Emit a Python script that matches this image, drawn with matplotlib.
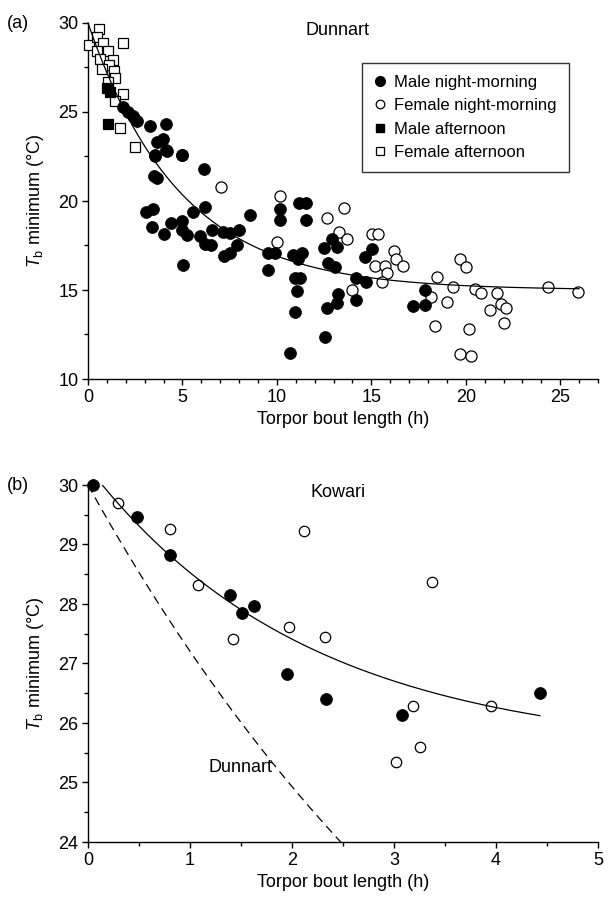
import numpy as np
import matplotlib
matplotlib.use('Agg')
import matplotlib.pyplot as plt
from matplotlib.ticker import MultipleLocator
from matplotlib.lines import Line2D

plt.rcParams['font.family'] = ['Liberation Sans', 'DejaVu Sans']
plt.rcParams['mathtext.fontset'] = 'custom'
plt.rcParams['mathtext.rm'] = 'Liberation Sans'
plt.rcParams['mathtext.it'] = 'Liberation Sans:italic'

# ---------------- Panel (a): Dunnart ----------------
a_male_nm_h = [1.87, 2.13, 2.36, 2.61, 3.3, 4.15, 3.67, 3.99, 4.15, 3.54, 5.0,
               3.54, 4.2, 5.0, 3.5, 3.67, 6.14, 3.07, 3.42, 3.37, 4.02, 4.39, 5.0, 5.0,
               5.26, 5.54, 6.22, 5.04, 5.93, 6.19, 6.51, 6.58, 7.16, 7.51, 7.99,
               7.2, 7.51, 7.87, 8.6,
               10.19, 10.19, 11.18, 11.53, 11.53, 9.54, 9.89, 9.54, 10.86, 11.31, 11.13,
               10.95, 11.22, 11.04, 10.95, 12.49, 12.9, 13.19, 12.72, 13.07, 13.25, 13.2,
               12.66, 12.54, 10.69, 14.18, 14.7, 14.18, 14.66, 15.01, 17.83, 17.18, 17.83]
a_male_nm_T = [25.3, 25.0, 24.8, 24.5, 24.2, 24.3, 23.3, 23.5, 22.87, 22.6, 22.6,
               22.5, 22.8, 22.57, 21.4, 21.3, 21.8, 19.4, 19.55, 18.55, 18.15, 18.75, 18.9, 18.37,
               18.1, 19.37, 19.68, 16.4, 18.03, 17.6, 17.55, 18.37, 18.25, 18.2, 18.37,
               16.9, 17.1, 17.5, 19.2,
               19.53, 18.93, 19.87, 19.9, 18.96, 17.06, 17.1, 16.12, 16.97, 17.1, 16.75,
               15.66, 15.66, 14.96, 13.78, 17.34, 17.85, 17.4, 16.5, 16.27, 14.78, 14.25,
               13.97, 12.34, 11.45, 15.66, 15.47, 14.44, 16.87, 17.29, 15.0, 14.1, 14.13]

a_female_nm_h = [7.02, 10.16, 12.66, 13.55, 10.0, 13.31, 13.72, 15.01, 15.36, 15.19, 15.71,
                 15.83, 15.59, 16.19, 16.28, 16.68, 14.0, 18.48, 18.18, 18.36, 19.0,
                 19.68, 20.0, 19.33, 20.48, 20.83, 21.66, 21.3, 21.84, 22.15, 22.0, 20.16,
                 24.35, 25.94, 19.7, 20.3]
a_female_nm_T = [20.8, 20.28, 19.03, 19.59, 17.71, 18.27, 17.85, 18.15, 18.15, 16.35, 16.35,
                 15.94, 15.43, 17.21, 16.75, 16.33, 15.0, 15.75, 14.59, 12.98, 14.3,
                 16.72, 16.28, 15.15, 15.04, 14.85, 14.85, 13.9, 14.2, 14.0, 13.13, 12.8,
                 15.15, 14.9, 11.4, 11.3]

a_male_aft_h = [1.0, 1.15, 1.04]
a_male_aft_T = [26.35, 26.1, 24.3]

a_female_aft_h = [0.6, 0.07, 0.46, 0.77, 1.87, 0.49, 1.04, 0.63, 1.34, 1.13, 0.72,
                  1.4, 1.43, 1.08, 1.87, 1.43, 1.69, 2.5]
a_female_aft_T = [29.65, 28.76, 29.23, 28.86, 28.86, 28.4, 28.4, 27.96, 27.9, 27.64, 27.4,
                  27.3, 26.9, 26.7, 26.0, 25.6, 24.1, 23.05]

# fitted exponential (dunnart): T = asym + amp * exp(-h / tau)
dun_asym, dun_amp, dun_tau = 15.0, 15.0, 4.85
dun_hmax = 26.0

# ---------------- Panel (b): Kowari ----------------
b_male_h = [0.05, 0.48, 0.80, 1.39, 1.51, 1.63, 1.95, 2.33, 3.08, 4.43]
b_male_T = [30.0, 29.47, 28.82, 28.15, 27.85, 27.97, 26.83, 26.41, 26.13, 26.51]
b_female_h = [0.29, 0.80, 1.08, 1.42, 1.97, 2.12, 2.32, 3.02, 3.19, 3.25, 3.37, 3.95]
b_female_T = [29.70, 29.26, 28.32, 27.42, 27.62, 29.22, 27.45, 25.35, 26.29, 25.60, 28.37, 26.29]

kow_asym, kow_amp, kow_tau, kow_h0, kow_hmax = 25.5, 4.5, 2.17, 0.14, 4.43

legend_labels = ['Male night-morning', 'Female night-morning',
                 'Male afternoon', 'Female afternoon']

FS = 13

fig = plt.figure(figsize=(6.12, 9.05), dpi=100)
axA = fig.add_axes([88/612, 1-379/905, 510/612, 356/905])
axB = fig.add_axes([88/612, 1-842/905, 510/612, 357/905])

for ax in (axA, axB):
    for s in ('top', 'right'):
        ax.spines[s].set_visible(False)
    for s in ('left', 'bottom'):
        ax.spines[s].set_linewidth(1.0)
    ax.tick_params(which='major', direction='out', length=4, width=1.0,
                   labelsize=FS, pad=3)
    ax.tick_params(which='minor', direction='out', length=3, width=1.0)
    ax.set_xlabel('Torpor bout length (h)', fontsize=FS, labelpad=4)
    ax.set_ylabel(r'$T_\mathrm{b}$ minimum (°C)', fontsize=FS, labelpad=9)

# ---- Panel (a)
axA.set_xlim(0, 27)
axA.set_ylim(10, 30)
axA.xaxis.set_major_locator(MultipleLocator(5))
axA.xaxis.set_minor_locator(MultipleLocator(1))
axA.yaxis.set_major_locator(MultipleLocator(5))
axA.yaxis.set_minor_locator(MultipleLocator(2.5))

axA.plot(a_female_aft_h, a_female_aft_T, 's', ms=6.7, mfc='white', mec='black',
         mew=0.9, clip_on=False, zorder=3)
axA.plot(a_male_aft_h, a_male_aft_T, 's', ms=6.7, mfc='black', mec='black',
         mew=0.9, clip_on=False, zorder=3)
axA.plot(a_female_nm_h, a_female_nm_T, 'o', ms=8, mfc='white', mec='black',
         mew=0.9, clip_on=False, zorder=3)
axA.plot(a_male_nm_h, a_male_nm_T, 'o', ms=8.6, mfc='black', mec='black',
         mew=0.5, clip_on=False, zorder=3)

hA = np.linspace(0, dun_hmax, 300)
axA.plot(hA, dun_asym + dun_amp*np.exp(-hA/dun_tau), color='black', lw=0.9,
         zorder=4, clip_on=False)

axA.text(0.49, 0.98, 'Dunnart', transform=axA.transAxes, ha='center',
         va='center', fontsize=FS)

handles = [
    Line2D([], [], ls='none', marker='o', ms=7.0, mfc='black', mec='black'),
    Line2D([], [], ls='none', marker='o', ms=6.2, mfc='white', mec='black', mew=0.9),
    Line2D([], [], ls='none', marker='s', ms=5.5, mfc='black', mec='black'),
    Line2D([], [], ls='none', marker='s', ms=5.5, mfc='white', mec='black', mew=0.9),
]
leg = axA.legend(handles, legend_labels, loc='upper right',
                 bbox_to_anchor=(0.943, 0.888), frameon=True, fancybox=False,
                 edgecolor='black', fontsize=12, handlelength=0.7,
                 handletextpad=0.5, borderpad=0.72, labelspacing=0.5,
                 borderaxespad=0)
leg.get_frame().set_linewidth(1.0)

# ---- Panel (b)
axB.set_xlim(0, 5)
axB.set_ylim(24, 30)
axB.xaxis.set_major_locator(MultipleLocator(1))
axB.xaxis.set_minor_locator(MultipleLocator(0.5))
axB.yaxis.set_major_locator(MultipleLocator(1))
axB.yaxis.set_minor_locator(MultipleLocator(0.5))

axB.plot(b_female_h, b_female_T, 'o', ms=7.5, mfc='white', mec='black',
         mew=0.9, clip_on=False, zorder=3)
axB.plot(b_male_h, b_male_T, 'o', ms=8.6, mfc='black', mec='black',
         mew=0.5, clip_on=False, zorder=3)

hB = np.linspace(kow_h0, kow_hmax, 200)
axB.plot(hB, kow_asym + kow_amp*np.exp(-(hB-kow_h0)/kow_tau), color='black',
         lw=0.9, zorder=4)
hD = np.linspace(0, 3, 200)
axB.plot(hD, dun_asym + dun_amp*np.exp(-hD/dun_tau), color='black', lw=0.9,
         ls=(0, (7, 4.5)), zorder=2)

axB.text(0.49, 0.98, 'Kowari', transform=axB.transAxes, ha='center',
         va='center', fontsize=FS)
axB.text(1.5, 25.25, 'Dunnart', ha='center', va='center', fontsize=FS)

fig.text(0.012, 1-23/905, '(a)', ha='left', va='center', fontsize=FS)
fig.text(0.012, 1-485/905, '(b)', ha='left', va='center', fontsize=FS)

fig.savefig('out.png', dpi=100)
